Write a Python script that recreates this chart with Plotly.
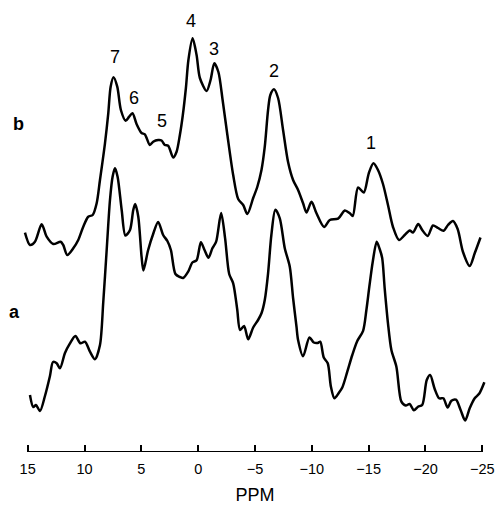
import plotly.graph_objects as go

# Spectrum b (upper trace): chemical shift (ppm) and intensity (arbitrary units)
ppm_b = [15.24, 14.80, 14.36, 13.77, 13.33, 12.75, 12.10, 11.87, 11.52, 10.99,
         10.55, 10.11, 9.67, 9.28, 8.93, 8.64, 8.20, 7.91, 7.70, 7.45,
         7.12, 6.80, 6.38, 6.07, 5.78, 5.42, 4.98, 4.69, 4.25, 3.96,
         3.52, 3.22, 2.93, 2.64, 2.20, 1.90, 1.61, 1.35, 1.08, 0.86,
         0.49, 0.14, -0.15, -0.74, -1.09, -1.42, -1.78, -2.15, -2.57, -3.08,
         -3.52, -3.96, -4.33, -4.84, -5.20, -5.57, -5.86, -6.15, -6.35, -6.67,
         -7.03, -7.47, -7.91, -8.35, -8.79, -9.23, -9.53, -9.97, -10.41, -11.08,
         -11.58, -12.31, -12.90, -13.34, -13.60, -14.07, -14.57, -15.01, -15.42, -15.82,
         -16.26, -16.70, -17.14, -17.67, -18.17, -18.61, -18.90, -19.36, -19.71, -20.19,
         -20.66, -21.10, -21.60, -21.98, -22.42, -22.83, -23.30, -23.89, -24.33, -24.84]
int_b = [219.3, 207, 210.3, 227.7, 215.3, 208, 210.3, 207, 197, 203.7,
         212, 225.3, 235.3, 237, 248.7, 272, 308.7, 338.7, 365.3, 374.7,
         365.3, 342, 331.3, 335.3, 338.7, 328, 319, 317.7, 307, 310.3,
         312, 311.5, 307, 306.3, 294.5, 300.3, 317, 337, 364, 392,
         413.7, 397, 374, 361, 372, 388.7, 380, 352, 317, 277,
         253, 247, 238, 254, 265, 282, 305.3, 342, 357, 362.7,
         354, 322, 290, 272, 262, 248.7, 239.5, 250.3, 238.7, 225,
         232, 233.3, 241.5, 238.7, 236, 264.5, 259.5, 278.7, 288.7, 282,
         268, 247, 225, 212, 217, 221.5, 219.5, 228, 222, 216,
         226.5, 224, 221.3, 227, 231, 223, 200, 186, 198.7, 214.5]

# Spectrum a (lower trace)
ppm_a = [14.80, 14.51, 14.27, 13.92, 13.48, 13.04, 12.77, 12.45, 12.16, 11.72,
         11.28, 10.80, 10.36, 9.96, 9.52, 9.08, 8.64, 8.35, 8.05, 7.76,
         7.53, 7.32, 7.09, 6.73, 6.40, 6.00, 5.71, 5.54, 5.27, 4.98,
         4.82, 4.40, 3.96, 3.52, 3.08, 2.71, 2.40, 2.00, 1.61, 1.32,
         0.88, 0.51, 0.14, -0.24, -0.56, -0.91, -1.25, -1.58, -2.02, -2.37,
         -2.73, -3.08, -3.43, -3.69, -4.04, -4.40, -4.84, -5.27, -5.57, -5.86,
         -6.15, -6.44, -6.79, -7.18, -7.62, -8.06, -8.35, -8.65, -8.79, -9.23,
         -9.79, -10.17, -10.52, -10.74, -11.05, -11.40, -11.68, -11.99, -12.37, -12.68,
         -13.12, -13.56, -14.00, -14.51, -14.80, -15.06, -15.36, -15.71, -15.97, -16.19,
         -16.41, -16.70, -17.00, -17.44, -17.88, -18.26, -18.61, -18.98, -19.34, -19.71,
         -20.11, -20.41, -20.81, -21.20, -21.57, -21.95, -22.28, -22.68, -23.09, -23.49,
         -23.89, -24.33, -24.72, -25.18]
int_a = [57, 45, 47, 41, 56, 76, 90, 88.7, 83.7, 99,
         108.7, 116, 108.7, 110.3, 100.3, 92.7, 107, 150, 202, 252,
         275.3, 283.7, 275.3, 242, 216.5, 222, 242, 248, 235.3, 195.3,
         181.5, 202, 218, 230, 217, 211, 202, 178, 175, 174,
         180.3, 189.5, 191.7, 209.7, 202, 194.2, 203.7, 210.3, 239, 213.7,
         178, 168.7, 143, 122, 126, 112.7, 124.5, 132, 138.7, 152,
         178.7, 217, 242.3, 233.7, 203.7, 185.3, 154, 125.3, 112, 95.7,
         114.5, 109.5, 109, 110.3, 94.5, 88.7, 65.3, 53.7, 59, 64.5,
         80.3, 97, 111, 121.2, 142, 165.3, 190.3, 210.3, 203, 194,
         163.7, 128.7, 102, 85.3, 50.3, 46.5, 48, 41.7, 45.3, 47,
         72, 77, 63, 53.7, 53.7, 44.5, 51.2, 52.3, 42, 31.5,
         43.7, 53.7, 58.2, 69.8]

# Peak labels
peak_labels = ["7", "6", "5", "4", "3", "2", "1"]
peak_ppm = [7.32, 5.65, 3.19, 0.64, -1.38, -6.66, -15.22]
peak_y = [395, 354, 331, 431, 403, 381, 309]

# Trace labels (placed left of the spectrum start)
trace_labels = ["b", "a"]
trace_label_ppm = [15.85, 16.2]
trace_label_y = [328, 140]

tick_vals = [15, 10, 5, 0, -5, -10, -15, -20, -25]
tick_text = ["15", "10", "5", "0", "\u22125", "\u221210", "\u221215", "\u221220", "\u221225"]

x_range = [15.5, -25.5]

fig = go.Figure()
for xs, ys in ((ppm_b, int_b), (ppm_a, int_a)):
    fig.add_trace(go.Scatter(x=xs, y=ys, mode="lines",
                             line=dict(color="black", width=2.5, shape="spline", smoothing=0.8),
                             showlegend=False, hoverinfo="skip", cliponaxis=False))

for t, x, y in zip(peak_labels, peak_ppm, peak_y):
    fig.add_annotation(x=x, y=y, text=t, showarrow=False,
                       font=dict(family="Liberation Sans, Arial", size=18, color="black"))
for t, x, y in zip(trace_labels, trace_label_ppm, trace_label_y):
    xp = (x_range[0] - x) / (x_range[0] - x_range[1])
    fig.add_annotation(x=xp, xref="paper", y=y, yref="y", text="<b>" + t + "</b>",
                       showarrow=False, xanchor="center", yanchor="middle",
                       font=dict(family="Liberation Sans, Arial", size=18, color="black"))

# baseline axis line spanning 15 to -25
fig.add_shape(type="line", x0=tick_vals[0], x1=tick_vals[-1], y0=0, y1=0,
              line=dict(color="black", width=2))

fig.update_layout(
    width=497, height=505,
    margin=dict(l=22, r=9, t=10, b=53, autoexpand=False),
    paper_bgcolor="white", plot_bgcolor="white",
    font=dict(family="Liberation Sans, Arial", color="black"),
    hovermode=False,
)
fig.update_xaxes(range=x_range, showgrid=False, zeroline=False, showline=False,
                 ticks="inside", ticklen=7, tickwidth=2, tickcolor="black",
                 tickvals=tick_vals, ticktext=tick_text, automargin=False,
                 ticklabelstandoff=6,
                 tickfont=dict(size=14.5, color="black"),
                 title=dict(text="PPM", font=dict(size=18, color="black"), standoff=15))
fig.update_yaxes(range=[0, 442], visible=False, automargin=False)

fig.write_html("out.html", config={"displayModeBar": False},
               post_script="document.body.style.margin='0';document.body.style.overflow='hidden';")
